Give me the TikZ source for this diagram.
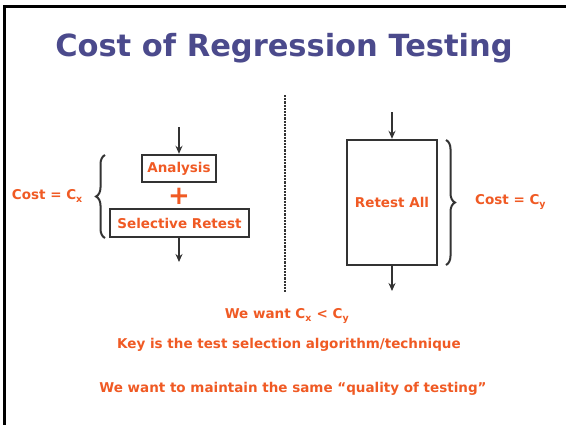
\documentclass[tikz,border=0pt]{standalone}
\usepackage{fontspec}
\setmainfont{DejaVu Sans}
\usetikzlibrary{decorations.pathreplacing,arrows.meta}
\definecolor{ttl}{HTML}{4B4A8C}
\definecolor{org}{HTML}{F05A24}
\definecolor{ink}{HTML}{333333}
\tikzset{
  txt/.style={text=org,font=\bfseries\fontsize{13.5}{16}\selectfont,inner sep=0pt},
  boxn/.style={draw=ink,line width=2.4pt,inner sep=0pt,txt},
  arr/.style={draw=ink,line width=1.6pt,-{Stealth[length=8pt,width=7pt]}},
  brc/.style={draw=ink,line width=2pt,decorate,decoration={brace,amplitude=9pt}}
}
\begin{document}
\begin{tikzpicture}[x=1pt,y=-1pt]
\useasboundingbox (0,0) rectangle (566,424);
\fill[white] (0,0) rectangle (566,424);
\draw[black,line width=2.5pt] (4.5,430) -- (4.5,6.5) -- (570,6.5);
\node[text=ttl,font=\bfseries\fontsize{30.5}{36}\selectfont,inner sep=0pt] (title) at (284,48) {Cost of Regression Testing};
\draw[ink,line width=2.6pt,dash pattern=on 2.2pt off 1pt] (285,95) -- (285,293);
% left side
\node[boxn,minimum width=74pt,minimum height=27pt] (ana) at (179,168.5) {Analysis};
\node[text=org,font=\bfseries\fontsize{26}{26}\selectfont,inner sep=0pt] (plus) at (179,196) {+};
\node[boxn,minimum width=139pt,minimum height=28pt] (sel) at (179.5,223) {Selective Retest};
\coordinate (a1) at (179,127);
\coordinate (a2) at (179,262);
\draw[arr] (a1) -- (ana.north);
\draw[arr] (sel.south -| a2) -- (a2);
\coordinate (lb1) at (105,238);
\coordinate (lb2) at (105,155);
\draw[brc] (lb1) -- (lb2);
\node[txt,anchor=east] (cx) at (83,196) {Cost = C\textsubscript{x}};
% right side
\node[boxn,minimum width=90pt,minimum height=125pt] (all) at (392,202.5) {Retest All};
\coordinate (b1) at (392,112);
\coordinate (b2) at (392,291);
\draw[arr] (b1) -- (all.north);
\draw[arr] (all.south) -- (b2);
\coordinate (rb1) at (446,140);
\coordinate (rb2) at (446,265);
\draw[brc] (rb1) -- (rb2);
\node[txt,anchor=west] (cy) at (475,202) {Cost = C\textsubscript{y}};
% bottom texts
\node[txt] (w1) at (287,316) {We want C\textsubscript{x} < C\textsubscript{y}};
\node[txt] (w2) at (289,345) {Key is the test selection algorithm/technique};
\node[txt] (w3) at (293,389) {We want to maintain the same “quality of testing”};
\end{tikzpicture}
\end{document}
